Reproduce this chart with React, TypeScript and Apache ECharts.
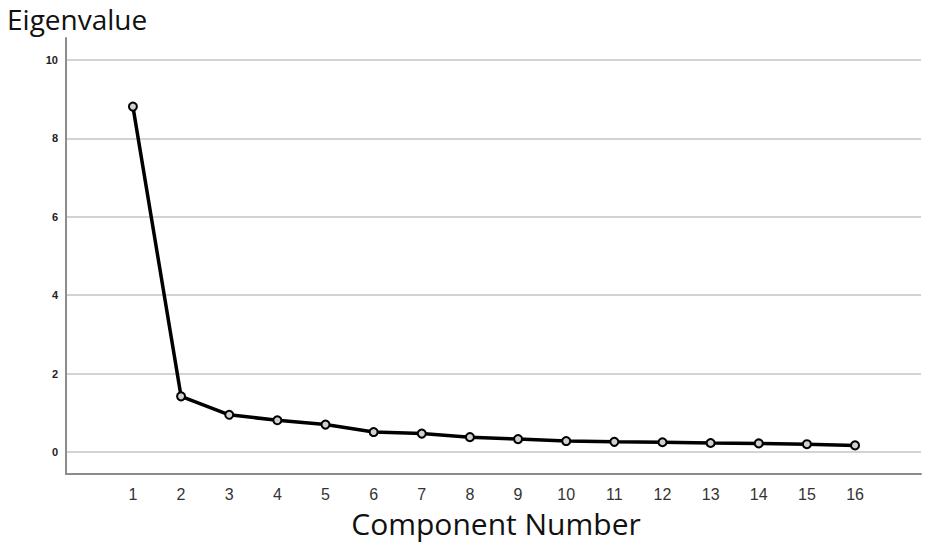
import React, { useEffect, useRef } from "react";
import * as echarts from "echarts";

const components = [1, 2, 3, 4, 5, 6, 7, 8, 9, 10, 11, 12, 13, 14, 15, 16];
const eigenvalues = [8.81, 1.42, 0.95, 0.81, 0.7, 0.51, 0.47, 0.38, 0.33, 0.28, 0.26, 0.25, 0.23, 0.22, 0.2, 0.17];
const yTicks = [0, 2, 4, 6, 8, 10];
const yTitle = "Eigenvalue";
const xTitle = "Component Number";

export default function App() {
  const ref = useRef<HTMLDivElement>(null);
  useEffect(() => {
    if (!ref.current) return;
    const chart = echarts.init(ref.current, undefined, { renderer: "svg" });
    chart.setOption({
      animation: false,
      backgroundColor: "#ffffff",
      grid: { left: 66, right: 14, top: 38, bottom: 77, containLabel: false },
      graphic: [
        {
          type: "text",
          x: 7,
          y: 5,
          style: {
            text: yTitle,
            fontFamily: "Open Sans",
            fontSize: 28,
            fill: "#111",
            align: "left",
            verticalAlign: "top",
          },
        },
        {
          type: "text",
          x: 496,
          y: 508,
          style: {
            text: xTitle,
            fontFamily: "Open Sans",
            fontSize: 30,
            fill: "#111",
            align: "center",
            verticalAlign: "top",
          },
        },
      ],
      xAxis: {
        type: "value",
        min: -0.39,
        max: 17.37,
        axisLine: { show: true, onZero: false, lineStyle: { color: "#8c8c8c", width: 2 } },
        axisTick: { show: false, customValues: components },
        splitLine: { show: false },
        axisLabel: {
          customValues: components,
          color: "#333",
          fontSize: 16,
          fontFamily: "Liberation Sans",
          margin: 12,
        },
      },
      yAxis: {
        type: "value",
        min: -0.56,
        max: 10.56,
        axisLine: { show: true, onZero: false, lineStyle: { color: "#8c8c8c", width: 2 } },
        axisTick: { show: false, customValues: yTicks },
        splitLine: { show: true, lineStyle: { color: "#c4c4c8", width: 1.5 } },
        axisLabel: {
          customValues: yTicks,
          color: "#222",
          fontSize: 11,
          fontWeight: "bold",
          fontFamily: "Liberation Sans",
          margin: 8,
        },
      },
      series: [
        {
          type: "line",
          data: components.map((c, i) => [c, eigenvalues[i]]),
          lineStyle: { color: "#000", width: 3.5 },
          symbol: "circle",
          symbolSize: 8,
          itemStyle: { color: "#d0d0d0", borderColor: "#000", borderWidth: 2 },
          z: 3,
        },
      ],
    });
    return () => chart.dispose();
  }, []);
  return <div ref={ref} style={{ width: 935, height: 551, position: "absolute", left: 0, top: 0 }} />;
}
